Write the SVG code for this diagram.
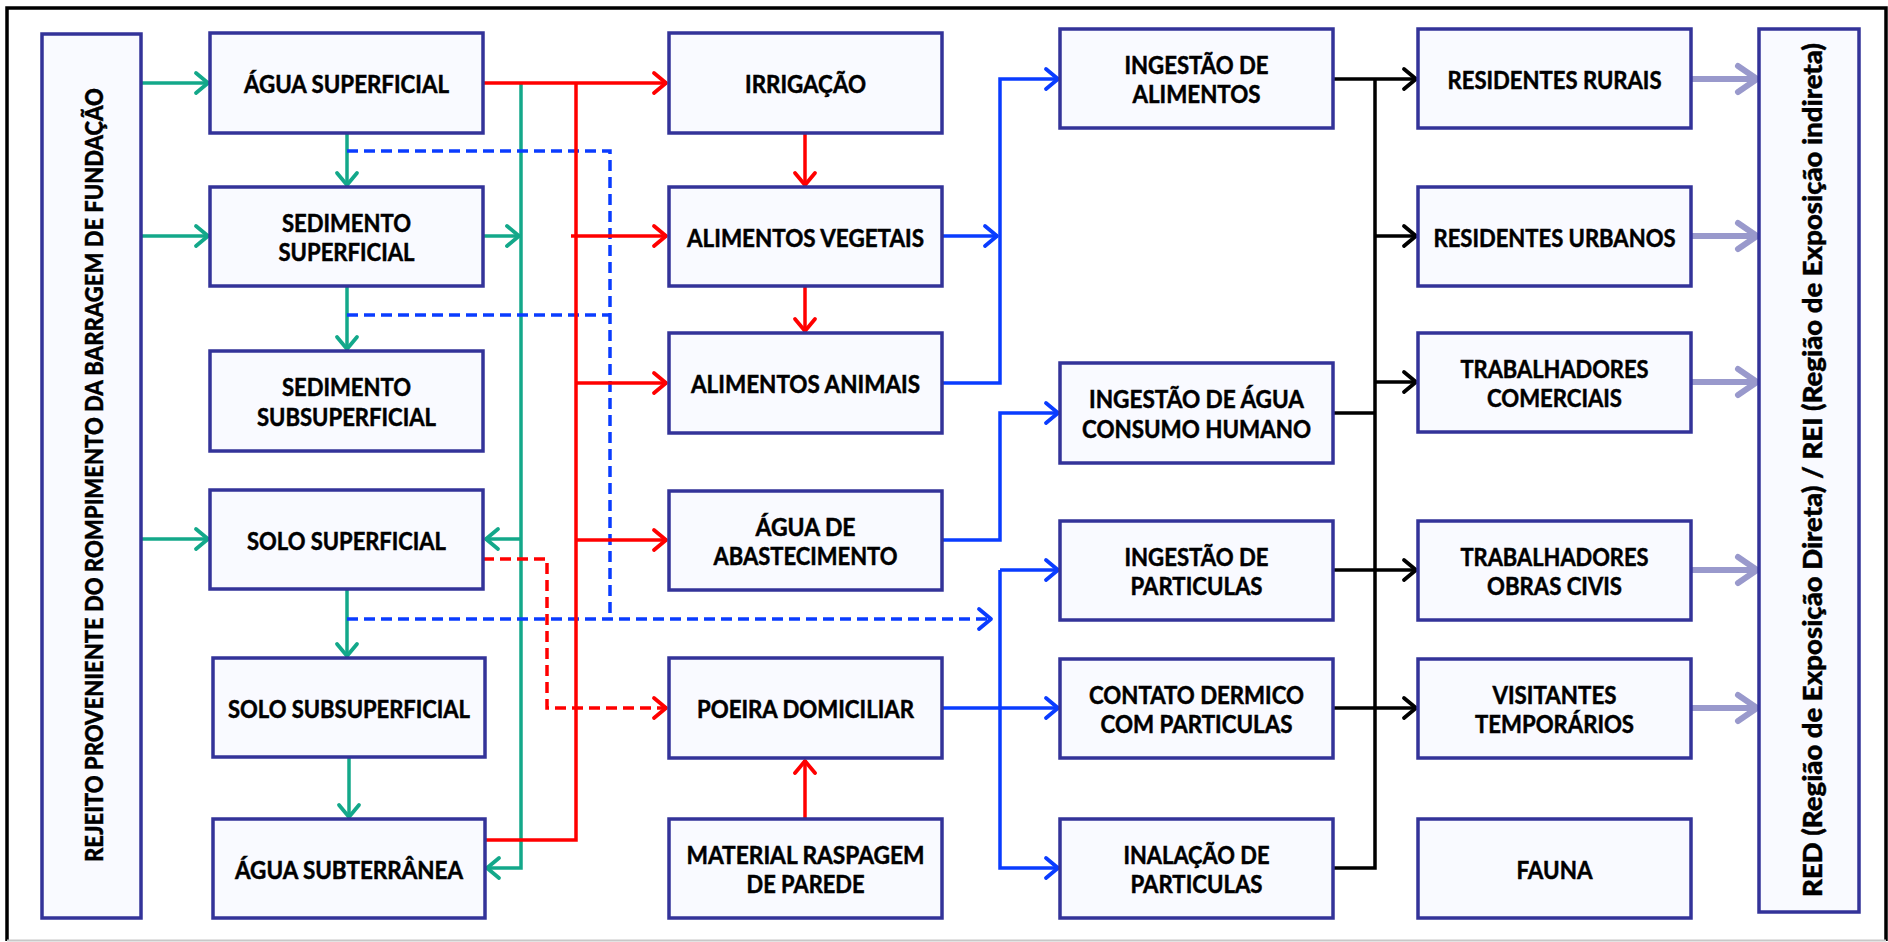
<svg xmlns="http://www.w3.org/2000/svg" width="1888" height="942" viewBox="0 0 1888 942">
<style>
.bx{fill:#f9faff;stroke:#333399;stroke-width:3.5}
.t{font-family:Lato,"Liberation Sans",sans-serif;font-weight:bold;font-size:24px;text-anchor:middle;fill:#000;stroke:#000;stroke-width:0.5}
.v{font-family:Lato,"Liberation Sans",sans-serif;font-weight:900;text-anchor:middle;fill:#000;stroke:#000;stroke-width:0.4}
.g{fill:none;stroke:#13a88a;stroke-width:3.5}
.r{fill:none;stroke:#ff0000;stroke-width:3.5}
.b{fill:none;stroke:#0a3cff;stroke-width:3.5}
.bd{fill:none;stroke:#0a3cff;stroke-width:3.5;stroke-dasharray:11 6}
.rd{fill:none;stroke:#ff0000;stroke-width:3.5;stroke-dasharray:11 6}
.k{fill:none;stroke:#000;stroke-width:3.5}
.l{fill:none;stroke:#9999cc;stroke-width:6}
</style>
<defs>
<marker id="ag" markerUnits="userSpaceOnUse" markerWidth="30" markerHeight="30" viewBox="-15 -15 30 30" refX="0" refY="0" orient="auto" overflow="visible"><path d="M-13,-10 L-1,0 L-13,10" fill="none" stroke="#13a88a" stroke-width="3.8" stroke-linecap="round" stroke-linejoin="round"/></marker>
<marker id="ar" markerUnits="userSpaceOnUse" markerWidth="30" markerHeight="30" viewBox="-15 -15 30 30" refX="0" refY="0" orient="auto" overflow="visible"><path d="M-13,-10 L-1,0 L-13,10" fill="none" stroke="#ff0000" stroke-width="3.8" stroke-linecap="round" stroke-linejoin="round"/></marker>
<marker id="ab" markerUnits="userSpaceOnUse" markerWidth="30" markerHeight="30" viewBox="-15 -15 30 30" refX="0" refY="0" orient="auto" overflow="visible"><path d="M-13,-10 L-1,0 L-13,10" fill="none" stroke="#0a3cff" stroke-width="3.8" stroke-linecap="round" stroke-linejoin="round"/></marker>
<marker id="ak" markerUnits="userSpaceOnUse" markerWidth="30" markerHeight="30" viewBox="-15 -15 30 30" refX="0" refY="0" orient="auto" overflow="visible"><path d="M-13,-10 L-1,0 L-13,10" fill="none" stroke="#000" stroke-width="3.8" stroke-linecap="round" stroke-linejoin="round"/></marker>
<marker id="al" markerUnits="userSpaceOnUse" markerWidth="40" markerHeight="40" viewBox="-20 -20 40 40" refX="0" refY="0" orient="auto" overflow="visible"><path d="M-20,-13 L-1,0 L-20,13" fill="none" stroke="#9999cc" stroke-width="6" stroke-linecap="round" stroke-linejoin="round"/></marker>
</defs>
<rect x="0" y="0" width="1888" height="942" fill="#fff"/>
<g id="frame">
<path d="M7,941 V8 H1886 V941" fill="none" stroke="#000" stroke-width="3.5"/>
<path d="M7,940.5 H1886" fill="none" stroke="#c8c8c8" stroke-width="2"/>
</g>
<g id="connectors">
<path class="g" d="M141,83 H209" marker-end="url(#ag)"/>
<path class="g" d="M141,236 H209" marker-end="url(#ag)"/>
<path class="g" d="M141,539 H209" marker-end="url(#ag)"/>
<path class="g" d="M347,133 V186" marker-end="url(#ag)"/>
<path class="g" d="M347,286 V350" marker-end="url(#ag)"/>
<path class="g" d="M347,589 V657" marker-end="url(#ag)"/>
<path class="g" d="M349,757 V818" marker-end="url(#ag)"/>
<path class="g" d="M483,236 H520" marker-end="url(#ag)"/>
<path class="g" d="M521,84 V868 H486" marker-end="url(#ag)"/>
<path class="g" d="M521,539 H485" marker-end="url(#ag)"/>
<path class="bd" d="M347,151 H610 V619"/>
<path class="bd" d="M347,315 H610"/>
<path class="bd" d="M347,619 H992" marker-end="url(#ab)"/>
<path class="r" d="M483,83 H667" marker-end="url(#ar)"/>
<path class="r" d="M576,83 V840 H485"/>
<path class="r" d="M571,236 H667" marker-end="url(#ar)"/>
<path class="r" d="M576,383 H667" marker-end="url(#ar)"/>
<path class="r" d="M576,540 H667" marker-end="url(#ar)"/>
<path class="r" d="M805,133 V186" marker-end="url(#ar)"/>
<path class="r" d="M805,286 V332" marker-end="url(#ar)"/>
<path class="r" d="M805,819 V760" marker-end="url(#ar)"/>
<path class="rd" d="M483,559 H547 V708 H667" marker-end="url(#ar)"/>
<path class="b" d="M942,236 H998" marker-end="url(#ab)"/>
<path class="b" d="M942,383 H1000 V79 H1059" marker-end="url(#ab)"/>
<path class="b" d="M942,540 H1000 V413 H1059" marker-end="url(#ab)"/>
<path class="b" d="M1000,570 H1059" marker-end="url(#ab)"/>
<path class="b" d="M1000,570 V868 H1059" marker-end="url(#ab)"/>
<path class="b" d="M942,708 H1059" marker-end="url(#ab)"/>
<path class="k" d="M1333,79 H1417" marker-end="url(#ak)"/>
<path class="k" d="M1375,79 V868 H1333"/>
<path class="k" d="M1375,236 H1417" marker-end="url(#ak)"/>
<path class="k" d="M1375,382 H1417" marker-end="url(#ak)"/>
<path class="k" d="M1333,413 H1375"/>
<path class="k" d="M1333,570 H1417" marker-end="url(#ak)"/>
<path class="k" d="M1333,708 H1417" marker-end="url(#ak)"/>
<path class="l" d="M1691,79 H1758" marker-end="url(#al)"/>
<path class="l" d="M1691,236 H1758" marker-end="url(#al)"/>
<path class="l" d="M1691,382 H1758" marker-end="url(#al)"/>
<path class="l" d="M1691,570 H1758" marker-end="url(#al)"/>
<path class="l" d="M1691,708 H1758" marker-end="url(#al)"/>
</g>
<g id="rejeito"><rect class="bx" x="42" y="34" width="99" height="884"/>
<text class="v" font-size="24" textLength="774" lengthAdjust="spacingAndGlyphs" transform="translate(102.5,475) rotate(-90)">REJEITO PROVENIENTE DO ROMPIMENTO DA BARRAGEM DE FUNDAÇÃO</text></g>
<g id="agua-superficial"><rect class="bx" x="210" y="33" width="273" height="100"/><text class="t" x="346.5" y="93" textLength="205" lengthAdjust="spacingAndGlyphs">ÁGUA SUPERFICIAL</text></g>
<g id="sedimento-superficial"><rect class="bx" x="210" y="187" width="273" height="99"/><text class="t" x="346.5" y="231.5" textLength="129" lengthAdjust="spacingAndGlyphs">SEDIMENTO</text><text class="t" x="346.5" y="261" textLength="136" lengthAdjust="spacingAndGlyphs">SUPERFICIAL</text></g>
<g id="sedimento-subsuperficial"><rect class="bx" x="210" y="351" width="273" height="100"/><text class="t" x="346.5" y="396" textLength="129" lengthAdjust="spacingAndGlyphs">SEDIMENTO</text><text class="t" x="346.5" y="425.5" textLength="179" lengthAdjust="spacingAndGlyphs">SUBSUPERFICIAL</text></g>
<g id="solo-superficial"><rect class="bx" x="210" y="490" width="273" height="99"/><text class="t" x="346.5" y="549.5" textLength="199" lengthAdjust="spacingAndGlyphs">SOLO SUPERFICIAL</text></g>
<g id="solo-subsuperficial"><rect class="bx" x="213" y="658" width="272" height="99"/><text class="t" x="349" y="717.5" textLength="242" lengthAdjust="spacingAndGlyphs">SOLO SUBSUPERFICIAL</text></g>
<g id="agua-subterranea"><rect class="bx" x="213" y="819" width="272" height="99"/><text class="t" x="349" y="878.5" textLength="228" lengthAdjust="spacingAndGlyphs">ÁGUA SUBTERRÂNEA</text></g>
<g id="irrigacao"><rect class="bx" x="669" y="33" width="273" height="100"/><text class="t" x="805.5" y="93" textLength="121" lengthAdjust="spacingAndGlyphs">IRRIGAÇÃO</text></g>
<g id="alimentos-vegetais"><rect class="bx" x="669" y="187" width="273" height="99"/><text class="t" x="805.5" y="246.5" textLength="237" lengthAdjust="spacingAndGlyphs">ALIMENTOS VEGETAIS</text></g>
<g id="alimentos-animais"><rect class="bx" x="669" y="333" width="273" height="100"/><text class="t" x="805.5" y="393" textLength="229" lengthAdjust="spacingAndGlyphs">ALIMENTOS ANIMAIS</text></g>
<g id="agua-abastecimento"><rect class="bx" x="669" y="491" width="273" height="99"/><text class="t" x="805.5" y="535.5" textLength="100" lengthAdjust="spacingAndGlyphs">ÁGUA DE</text><text class="t" x="805.5" y="565" textLength="184" lengthAdjust="spacingAndGlyphs">ABASTECIMENTO</text></g>
<g id="poeira-domiciliar"><rect class="bx" x="669" y="658" width="273" height="100"/><text class="t" x="805.5" y="718" textLength="217" lengthAdjust="spacingAndGlyphs">POEIRA DOMICILIAR</text></g>
<g id="material-raspagem"><rect class="bx" x="669" y="819" width="273" height="99"/><text class="t" x="805.5" y="863.5" textLength="238" lengthAdjust="spacingAndGlyphs">MATERIAL RASPAGEM</text><text class="t" x="805.5" y="893" textLength="118" lengthAdjust="spacingAndGlyphs">DE PAREDE</text></g>
<g id="ingestao-alimentos"><rect class="bx" x="1060" y="29" width="273" height="99"/><text class="t" x="1196.5" y="73.5" textLength="144" lengthAdjust="spacingAndGlyphs">INGESTÃO DE</text><text class="t" x="1196.5" y="103" textLength="128" lengthAdjust="spacingAndGlyphs">ALIMENTOS</text></g>
<g id="ingestao-agua"><rect class="bx" x="1060" y="363" width="273" height="100"/><text class="t" x="1196.5" y="408" textLength="215" lengthAdjust="spacingAndGlyphs">INGESTÃO DE ÁGUA</text><text class="t" x="1196.5" y="437.5" textLength="229" lengthAdjust="spacingAndGlyphs">CONSUMO HUMANO</text></g>
<g id="ingestao-particulas"><rect class="bx" x="1060" y="521" width="273" height="99"/><text class="t" x="1196.5" y="565.5" textLength="144" lengthAdjust="spacingAndGlyphs">INGESTÃO DE</text><text class="t" x="1196.5" y="595" textLength="132" lengthAdjust="spacingAndGlyphs">PARTICULAS</text></g>
<g id="contato-dermico"><rect class="bx" x="1060" y="659" width="273" height="99"/><text class="t" x="1196.5" y="703.5" textLength="215" lengthAdjust="spacingAndGlyphs">CONTATO DERMICO</text><text class="t" x="1196.5" y="733" textLength="192" lengthAdjust="spacingAndGlyphs">COM PARTICULAS</text></g>
<g id="inalacao"><rect class="bx" x="1060" y="819" width="273" height="99"/><text class="t" x="1196.5" y="863.5" textLength="146" lengthAdjust="spacingAndGlyphs">INALAÇÃO DE</text><text class="t" x="1196.5" y="893" textLength="132" lengthAdjust="spacingAndGlyphs">PARTICULAS</text></g>
<g id="residentes-rurais"><rect class="bx" x="1418" y="29" width="273" height="99"/><text class="t" x="1554.5" y="88.5" textLength="214" lengthAdjust="spacingAndGlyphs">RESIDENTES RURAIS</text></g>
<g id="residentes-urbanos"><rect class="bx" x="1418" y="187" width="273" height="99"/><text class="t" x="1554.5" y="246.5" textLength="242" lengthAdjust="spacingAndGlyphs">RESIDENTES URBANOS</text></g>
<g id="trabalhadores-comerciais"><rect class="bx" x="1418" y="333" width="273" height="99"/><text class="t" x="1554.5" y="377.5" textLength="188" lengthAdjust="spacingAndGlyphs">TRABALHADORES</text><text class="t" x="1554.5" y="407" textLength="135" lengthAdjust="spacingAndGlyphs">COMERCIAIS</text></g>
<g id="trabalhadores-obras"><rect class="bx" x="1418" y="521" width="273" height="99"/><text class="t" x="1554.5" y="565.5" textLength="188" lengthAdjust="spacingAndGlyphs">TRABALHADORES</text><text class="t" x="1554.5" y="595" textLength="135" lengthAdjust="spacingAndGlyphs">OBRAS CIVIS</text></g>
<g id="visitantes"><rect class="bx" x="1418" y="659" width="273" height="99"/><text class="t" x="1554.5" y="703.5" textLength="124" lengthAdjust="spacingAndGlyphs">VISITANTES</text><text class="t" x="1554.5" y="733" textLength="159" lengthAdjust="spacingAndGlyphs">TEMPORÁRIOS</text></g>
<g id="fauna"><rect class="bx" x="1418" y="819" width="273" height="99"/><text class="t" x="1554.5" y="878.5" textLength="76" lengthAdjust="spacingAndGlyphs">FAUNA</text></g>
<g id="red-rei"><rect class="bx" x="1759" y="29" width="100" height="883"/>
<text class="v" font-size="26" textLength="854" lengthAdjust="spacingAndGlyphs" transform="translate(1822,470) rotate(-90)">RED (Região de Exposição Direta) / REI (Região de Exposição indireta)</text></g>
</svg>
